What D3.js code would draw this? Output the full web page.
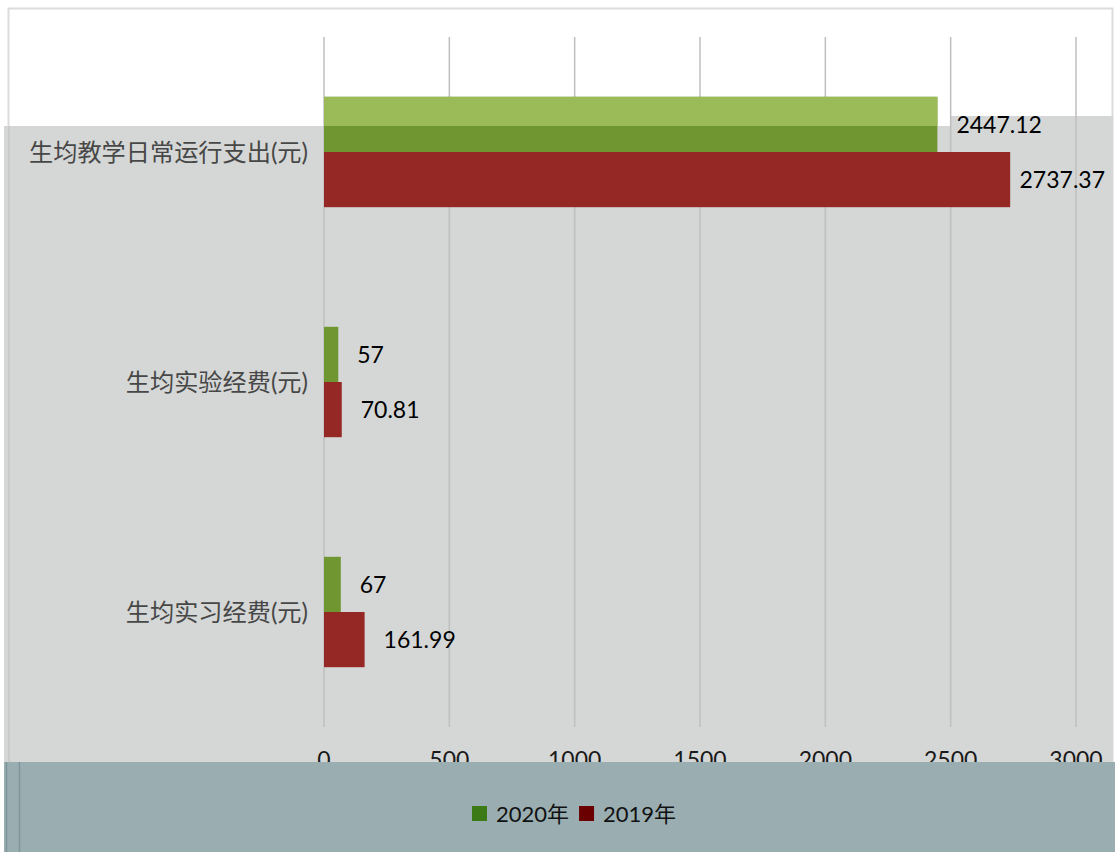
<html>
<head>
  <meta charset="utf-8">
  <script src="https://d3js.org/d3.v7.min.js"></script>
  <style>
    body { margin: 0; background: #fff; }
    svg text { font-family: Lato, "Noto Sans CJK SC", sans-serif; }
  </style>
</head>
<body>
<svg id="chart" width="1115" height="852"></svg>
<script>
// data
var categories = ['生均教学日常运行支出(元)', '生均实验经费(元)', '生均实习经费(元)']
var seriesNames = ['2020年', '2019年']
var values2020 = [2447.12, 57, 67]
var values2019 = [2737.37, 70.81, 161.99]
var valueLabels2020 = ['2447.12', '57', '67']
var valueLabels2019 = ['2737.37', '70.81', '161.99']
var xTicks = [0, 500, 1000, 1500, 2000, 2500, 3000]

var svg = d3.select('#chart')

var barColors = { '2020年': '#6f9630', '2019年': '#952825' }
var legendColors = { '2020年': '#3b7a15', '2019年': '#6b0000' }

var x = d3.scaleLinear().domain([0, 3000]).range([324, 1076])
var y = d3.scaleBand().domain(categories).range([37, 727]).paddingInner(0.52).paddingOuter(0.26)
var ySub = d3.scaleBand().domain(seriesNames).range([0, y.bandwidth()])

var rows = categories.map(function (c, i) {
  return { cat: c, vals: [
    { name: '2020年', v: values2020[i], label: valueLabels2020[i] },
    { name: '2019年', v: values2019[i], label: valueLabels2019[i] }
  ] }
})

// backgrounds
svg.append('rect').attr('x', 8.5).attr('y', 8.5).attr('width', 1104).attr('height', 760)
  .attr('fill', '#fff').attr('stroke', '#dcdcdc').attr('stroke-width', 2)
svg.append('rect').attr('x', 4).attr('y', 126).attr('width', 1109).attr('height', 636).attr('fill', '#d5d7d6')
svg.append('rect').attr('x', 951).attr('y', 116).attr('width', 162).attr('height', 10).attr('fill', '#d5d7d6')
svg.append('line').attr('x1', 9).attr('x2', 9).attr('y1', 126).attr('y2', 762)
  .attr('stroke', '#c4c6c5').attr('stroke-width', 1.5)

// gridlines
svg.append('g').selectAll('line').data(xTicks).enter().append('line')
  .attr('x1', function (d) { return x(d) }).attr('x2', function (d) { return x(d) })
  .attr('y1', 37).attr('y2', 727)
  .attr('stroke', '#bfbfbf').attr('stroke-width', 1.5)

// tick labels (get cut by the band below)
svg.append('g').selectAll('text').data(xTicks).enter().append('text')
  .attr('x', function (d) { return x(d) }).attr('y', 768).attr('text-anchor', 'middle')
  .attr('font-size', 23).attr('fill', '#1a1a1a').text(function (d) { return d })

// bars
var clip = svg.append('clipPath').attr('id', 'topclip')
clip.append('rect').attr('x', 0).attr('y', 0).attr('width', 1115).attr('height', 126)

var groups = svg.append('g').selectAll('g').data(rows).enter().append('g')
  .attr('transform', function (d) { return 'translate(0,' + y(d.cat) + ')' })

groups.selectAll('rect').data(function (d) { return d.vals }).enter().append('rect')
  .attr('x', x(0))
  .attr('y', function (d) { return ySub(d.name) })
  .attr('width', function (d) { return x(d.v) - x(0) })
  .attr('height', ySub.bandwidth())
  .attr('fill', function (d) { return barColors[d.name] })

// the part of the 2020 bar that sits on the white area is lighter
svg.append('g').attr('clip-path', 'url(#topclip)').selectAll('rect')
  .data(rows.map(function (r) { return { cat: r.cat, v: r.vals[0] } })).enter().append('rect')
  .attr('x', x(0))
  .attr('y', function (d) { return y(d.cat) + ySub('2020年') })
  .attr('width', function (d) { return x(d.v.v) - x(0) })
  .attr('height', ySub.bandwidth())
  .attr('fill', '#9bbb59')

// value labels
groups.selectAll('text.val').data(function (d) { return d.vals }).enter().append('text')
  .attr('class', 'val')
  .attr('y', function (d) { return ySub(d.name) + ySub.bandwidth() / 2 })
  .attr('dy', '0.36em')
  .attr('font-size', 23).attr('fill', '#000')
  .text(function (d) { return d.label })
  .attr('x', function (d) {
    var w = this.getComputedTextLength()
    return Math.min(x(d.v) + 19, 1105 - w)
  })

// category labels
svg.append('g').selectAll('text').data(categories).enter().append('text')
  .attr('x', 308)
  .attr('y', function (d) { return y(d) + y.bandwidth() / 2 })
  .attr('dy', '0.36em')
  .attr('text-anchor', 'end')
  .attr('font-size', 24.2)
  .attr('font-family', '"Noto Sans CJK SC", sans-serif')
  .attr('fill', '#474747')
  .text(function (d) { return d })

// bottom band
svg.append('rect').attr('x', 4).attr('y', 762).attr('width', 1111).attr('height', 90).attr('fill', '#9aaeb2')
svg.append('line').attr('x1', 6.5).attr('x2', 6.5).attr('y1', 762).attr('y2', 852).attr('stroke', '#7d9499').attr('stroke-width', 1.5)
svg.append('line').attr('x1', 19.5).attr('x2', 19.5).attr('y1', 762).attr('y2', 852).attr('stroke', '#7d9499').attr('stroke-width', 1.5)

// legend
var legend = svg.append('g')
var lx = 472
seriesNames.forEach(function (s) {
  legend.append('rect').attr('x', lx).attr('y', 806).attr('width', 15).attr('height', 15).attr('fill', legendColors[s])
  var t = legend.append('text').attr('x', lx + 24).attr('y', 814).attr('dy', '0.36em')
    .attr('font-size', 22).attr('fill', '#111').text(s)
  lx += 24 + t.node().getComputedTextLength() + 10
})
</script>
</body>
</html>
